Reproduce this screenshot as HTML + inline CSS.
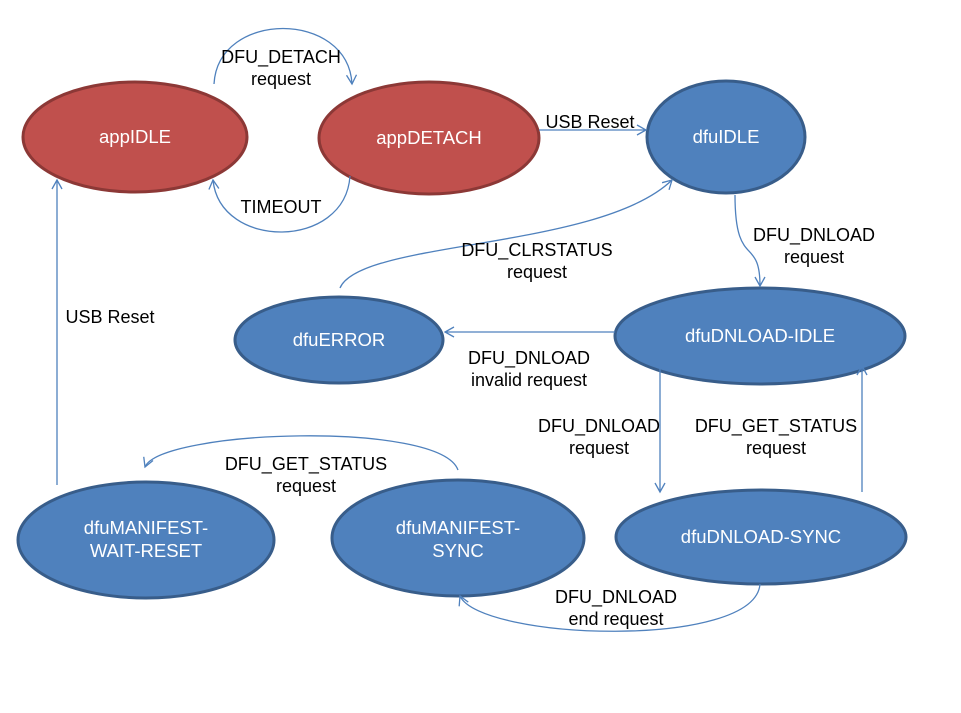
<!DOCTYPE html>
<html><head><meta charset="utf-8"><style>
html,body{margin:0;padding:0;background:#fff;}
svg{display:block}
.n{font-family:"Liberation Sans",sans-serif;font-size:18.5px;fill:#fff;text-anchor:middle}
.l{font-family:"Liberation Sans",sans-serif;font-size:18px;fill:#000;text-anchor:middle}
.c{fill:none;stroke:#4f81bd;stroke-width:1.3}
</style></head><body>
<svg width="961" height="713" viewBox="0 0 961 713" xmlns="http://www.w3.org/2000/svg">
<defs><marker id="a" markerWidth="12" markerHeight="12" refX="10" refY="6" orient="auto" markerUnits="userSpaceOnUse"><path d="M1,1 L10,6 L1,11" fill="none" stroke="#4f81bd" stroke-width="1.3"/></marker></defs>
<g fill="#c0504d" stroke="#8c3836" stroke-width="3">
<ellipse cx="135" cy="137" rx="112" ry="55"/>
<ellipse cx="429" cy="138" rx="110" ry="56"/>
</g>
<g fill="#4f81bd" stroke="#385d8a" stroke-width="3">
<ellipse cx="726" cy="137" rx="79" ry="56"/>
<ellipse cx="339" cy="340" rx="104" ry="43"/>
<ellipse cx="760" cy="336" rx="145" ry="48"/>
<ellipse cx="761" cy="537" rx="145" ry="47"/>
<ellipse cx="146" cy="540" rx="128" ry="58"/>
<ellipse cx="458" cy="538" rx="126" ry="58"/>
</g>
<g class="c" marker-end="url(#a)">
<path d="M214,84 C218,10 348,10 352,84"/>
<path d="M350,176 C345,250 220,250 213,180"/>
<path d="M539,130 L646,130"/>
<path d="M340,288 C360,240 600,250 672,180"/>
<path d="M735,195 C735,270 760,235 760,286"/>
<path d="M615,332 L445,332"/>
<path d="M660,368 L660,492"/>
<path d="M862,492 L862,366"/>
<path d="M760,584 C755,650 480,640 460,596"/>
<path d="M458,470 C440,420 160,430 145,467"/>
<path d="M57,485 L57,180"/>
</g>
<text class="n" x="135" y="143">appIDLE</text>
<text class="n" x="429" y="144">appDETACH</text>
<text class="n" x="726" y="143">dfuIDLE</text>
<text class="n" x="339" y="346">dfuERROR</text>
<text class="n" x="760" y="342">dfuDNLOAD-IDLE</text>
<text class="n" x="761" y="543">dfuDNLOAD-SYNC</text>
<text class="n" x="146" y="534">dfuMANIFEST-</text>
<text class="n" x="146" y="557">WAIT-RESET</text>
<text class="n" x="458" y="534">dfuMANIFEST-</text>
<text class="n" x="458" y="557">SYNC</text>
<text class="l" x="281" y="63">DFU_DETACH</text>
<text class="l" x="281" y="85">request</text>
<text class="l" x="281" y="213">TIMEOUT</text>
<text class="l" x="590" y="128">USB Reset</text>
<text class="l" x="537" y="256">DFU_CLRSTATUS</text>
<text class="l" x="537" y="278">request</text>
<text class="l" x="814" y="241">DFU_DNLOAD</text>
<text class="l" x="814" y="263">request</text>
<text class="l" x="529" y="364">DFU_DNLOAD</text>
<text class="l" x="529" y="386">invalid request</text>
<text class="l" x="110" y="323">USB Reset</text>
<text class="l" x="599" y="432">DFU_DNLOAD</text>
<text class="l" x="599" y="454">request</text>
<text class="l" x="776" y="432">DFU_GET_STATUS</text>
<text class="l" x="776" y="454">request</text>
<text class="l" x="306" y="470">DFU_GET_STATUS</text>
<text class="l" x="306" y="492">request</text>
<text class="l" x="616" y="603">DFU_DNLOAD</text>
<text class="l" x="616" y="625">end request</text>
</svg>
</body></html>
